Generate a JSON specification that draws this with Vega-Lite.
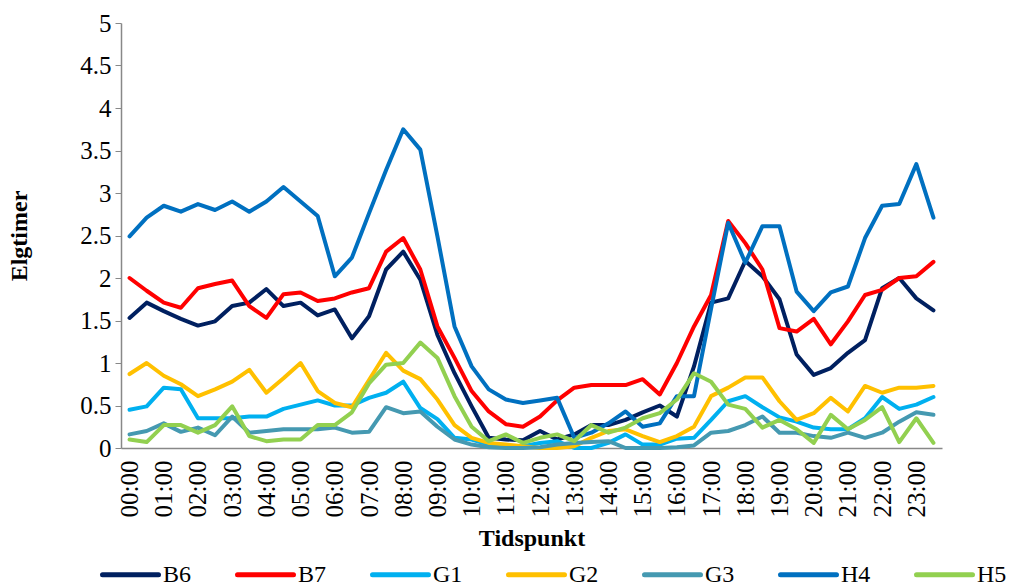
{
"$schema":"https://vega.github.io/schema/vega-lite/v6.json",
"autosize":{"type":"none"},
"width":821,"height":425,
"padding":{"left":121,"top":23,"right":68,"bottom":140},
"background":"white",
"config":{"font":"Liberation Serif","view":{"stroke":null},"axis":{"labelFont":"Liberation Serif","titleFont":"Liberation Serif"},"legend":{"labelFont":"Liberation Serif"}},
"data":{"values":[
{"t":"00:00","s":"B6","v":1.53},{"t":"00:30","s":"B6","v":1.71},{"t":"01:00","s":"B6","v":1.61},{"t":"01:30","s":"B6","v":1.52},{"t":"02:00","s":"B6","v":1.44},{"t":"02:30","s":"B6","v":1.49},{"t":"03:00","s":"B6","v":1.67},{"t":"03:30","s":"B6","v":1.71},{"t":"04:00","s":"B6","v":1.87},{"t":"04:30","s":"B6","v":1.67},{"t":"05:00","s":"B6","v":1.71},{"t":"05:30","s":"B6","v":1.56},{"t":"06:00","s":"B6","v":1.63},{"t":"06:30","s":"B6","v":1.29},{"t":"07:00","s":"B6","v":1.55},{"t":"07:30","s":"B6","v":2.10},{"t":"08:00","s":"B6","v":2.31},{"t":"08:30","s":"B6","v":1.98},{"t":"09:00","s":"B6","v":1.33},{"t":"09:30","s":"B6","v":0.88},{"t":"10:00","s":"B6","v":0.49},{"t":"10:30","s":"B6","v":0.12},{"t":"11:00","s":"B6","v":0.10},{"t":"11:30","s":"B6","v":0.09},{"t":"12:00","s":"B6","v":0.20},{"t":"12:30","s":"B6","v":0.10},{"t":"13:00","s":"B6","v":0.16},{"t":"13:30","s":"B6","v":0.27},{"t":"14:00","s":"B6","v":0.27},{"t":"14:30","s":"B6","v":0.33},{"t":"15:00","s":"B6","v":0.42},{"t":"15:30","s":"B6","v":0.50},{"t":"16:00","s":"B6","v":0.37},{"t":"16:30","s":"B6","v":0.96},{"t":"17:00","s":"B6","v":1.71},{"t":"17:30","s":"B6","v":1.76},{"t":"18:00","s":"B6","v":2.20},{"t":"18:30","s":"B6","v":2.02},{"t":"19:00","s":"B6","v":1.75},{"t":"19:30","s":"B6","v":1.10},{"t":"20:00","s":"B6","v":0.86},{"t":"20:30","s":"B6","v":0.94},{"t":"21:00","s":"B6","v":1.12},{"t":"21:30","s":"B6","v":1.27},{"t":"22:00","s":"B6","v":1.88},{"t":"22:30","s":"B6","v":2.00},{"t":"23:00","s":"B6","v":1.76},{"t":"23:30","s":"B6","v":1.62},
{"t":"00:00","s":"B7","v":2.00},{"t":"00:30","s":"B7","v":1.85},{"t":"01:00","s":"B7","v":1.71},{"t":"01:30","s":"B7","v":1.65},{"t":"02:00","s":"B7","v":1.88},{"t":"02:30","s":"B7","v":1.93},{"t":"03:00","s":"B7","v":1.97},{"t":"03:30","s":"B7","v":1.67},{"t":"04:00","s":"B7","v":1.53},{"t":"04:30","s":"B7","v":1.81},{"t":"05:00","s":"B7","v":1.83},{"t":"05:30","s":"B7","v":1.73},{"t":"06:00","s":"B7","v":1.76},{"t":"06:30","s":"B7","v":1.83},{"t":"07:00","s":"B7","v":1.88},{"t":"07:30","s":"B7","v":2.31},{"t":"08:00","s":"B7","v":2.47},{"t":"08:30","s":"B7","v":2.10},{"t":"09:00","s":"B7","v":1.43},{"t":"09:30","s":"B7","v":1.06},{"t":"10:00","s":"B7","v":0.67},{"t":"10:30","s":"B7","v":0.43},{"t":"11:00","s":"B7","v":0.28},{"t":"11:30","s":"B7","v":0.25},{"t":"12:00","s":"B7","v":0.37},{"t":"12:30","s":"B7","v":0.56},{"t":"13:00","s":"B7","v":0.71},{"t":"13:30","s":"B7","v":0.74},{"t":"14:00","s":"B7","v":0.74},{"t":"14:30","s":"B7","v":0.74},{"t":"15:00","s":"B7","v":0.81},{"t":"15:30","s":"B7","v":0.63},{"t":"16:00","s":"B7","v":1.00},{"t":"16:30","s":"B7","v":1.43},{"t":"17:00","s":"B7","v":1.80},{"t":"17:30","s":"B7","v":2.67},{"t":"18:00","s":"B7","v":2.41},{"t":"18:30","s":"B7","v":2.10},{"t":"19:00","s":"B7","v":1.41},{"t":"19:30","s":"B7","v":1.37},{"t":"20:00","s":"B7","v":1.52},{"t":"20:30","s":"B7","v":1.22},{"t":"21:00","s":"B7","v":1.49},{"t":"21:30","s":"B7","v":1.80},{"t":"22:00","s":"B7","v":1.86},{"t":"22:30","s":"B7","v":2.00},{"t":"23:00","s":"B7","v":2.02},{"t":"23:30","s":"B7","v":2.19},
{"t":"00:00","s":"G1","v":0.45},{"t":"00:30","s":"G1","v":0.49},{"t":"01:00","s":"G1","v":0.71},{"t":"01:30","s":"G1","v":0.69},{"t":"02:00","s":"G1","v":0.35},{"t":"02:30","s":"G1","v":0.35},{"t":"03:00","s":"G1","v":0.35},{"t":"03:30","s":"G1","v":0.37},{"t":"04:00","s":"G1","v":0.37},{"t":"04:30","s":"G1","v":0.46},{"t":"05:00","s":"G1","v":0.51},{"t":"05:30","s":"G1","v":0.56},{"t":"06:00","s":"G1","v":0.50},{"t":"06:30","s":"G1","v":0.50},{"t":"07:00","s":"G1","v":0.59},{"t":"07:30","s":"G1","v":0.65},{"t":"08:00","s":"G1","v":0.78},{"t":"08:30","s":"G1","v":0.47},{"t":"09:00","s":"G1","v":0.34},{"t":"09:30","s":"G1","v":0.12},{"t":"10:00","s":"G1","v":0.10},{"t":"10:30","s":"G1","v":0.04},{"t":"11:00","s":"G1","v":0.02},{"t":"11:30","s":"G1","v":0.02},{"t":"12:00","s":"G1","v":0.06},{"t":"12:30","s":"G1","v":0.08},{"t":"13:00","s":"G1","v":0.00},{"t":"13:30","s":"G1","v":0.00},{"t":"14:00","s":"G1","v":0.06},{"t":"14:30","s":"G1","v":0.16},{"t":"15:00","s":"G1","v":0.04},{"t":"15:30","s":"G1","v":0.04},{"t":"16:00","s":"G1","v":0.11},{"t":"16:30","s":"G1","v":0.12},{"t":"17:00","s":"G1","v":0.33},{"t":"17:30","s":"G1","v":0.55},{"t":"18:00","s":"G1","v":0.61},{"t":"18:30","s":"G1","v":0.48},{"t":"19:00","s":"G1","v":0.36},{"t":"19:30","s":"G1","v":0.31},{"t":"20:00","s":"G1","v":0.24},{"t":"20:30","s":"G1","v":0.22},{"t":"21:00","s":"G1","v":0.22},{"t":"21:30","s":"G1","v":0.35},{"t":"22:00","s":"G1","v":0.60},{"t":"22:30","s":"G1","v":0.46},{"t":"23:00","s":"G1","v":0.51},{"t":"23:30","s":"G1","v":0.60},
{"t":"00:00","s":"G2","v":0.87},{"t":"00:30","s":"G2","v":1.00},{"t":"01:00","s":"G2","v":0.85},{"t":"01:30","s":"G2","v":0.75},{"t":"02:00","s":"G2","v":0.61},{"t":"02:30","s":"G2","v":0.69},{"t":"03:00","s":"G2","v":0.78},{"t":"03:30","s":"G2","v":0.92},{"t":"04:00","s":"G2","v":0.65},{"t":"04:30","s":"G2","v":0.82},{"t":"05:00","s":"G2","v":1.00},{"t":"05:30","s":"G2","v":0.67},{"t":"06:00","s":"G2","v":0.53},{"t":"06:30","s":"G2","v":0.48},{"t":"07:00","s":"G2","v":0.80},{"t":"07:30","s":"G2","v":1.12},{"t":"08:00","s":"G2","v":0.91},{"t":"08:30","s":"G2","v":0.81},{"t":"09:00","s":"G2","v":0.57},{"t":"09:30","s":"G2","v":0.27},{"t":"10:00","s":"G2","v":0.12},{"t":"10:30","s":"G2","v":0.06},{"t":"11:00","s":"G2","v":0.04},{"t":"11:30","s":"G2","v":0.02},{"t":"12:00","s":"G2","v":0.00},{"t":"12:30","s":"G2","v":0.00},{"t":"13:00","s":"G2","v":0.02},{"t":"13:30","s":"G2","v":0.12},{"t":"14:00","s":"G2","v":0.20},{"t":"14:30","s":"G2","v":0.22},{"t":"15:00","s":"G2","v":0.14},{"t":"15:30","s":"G2","v":0.07},{"t":"16:00","s":"G2","v":0.14},{"t":"16:30","s":"G2","v":0.25},{"t":"17:00","s":"G2","v":0.61},{"t":"17:30","s":"G2","v":0.71},{"t":"18:00","s":"G2","v":0.83},{"t":"18:30","s":"G2","v":0.83},{"t":"19:00","s":"G2","v":0.55},{"t":"19:30","s":"G2","v":0.33},{"t":"20:00","s":"G2","v":0.41},{"t":"20:30","s":"G2","v":0.59},{"t":"21:00","s":"G2","v":0.43},{"t":"21:30","s":"G2","v":0.73},{"t":"22:00","s":"G2","v":0.65},{"t":"22:30","s":"G2","v":0.71},{"t":"23:00","s":"G2","v":0.71},{"t":"23:30","s":"G2","v":0.73},
{"t":"00:00","s":"G3","v":0.16},{"t":"00:30","s":"G3","v":0.20},{"t":"01:00","s":"G3","v":0.29},{"t":"01:30","s":"G3","v":0.19},{"t":"02:00","s":"G3","v":0.24},{"t":"02:30","s":"G3","v":0.15},{"t":"03:00","s":"G3","v":0.37},{"t":"03:30","s":"G3","v":0.18},{"t":"04:00","s":"G3","v":0.20},{"t":"04:30","s":"G3","v":0.22},{"t":"05:00","s":"G3","v":0.22},{"t":"05:30","s":"G3","v":0.22},{"t":"06:00","s":"G3","v":0.24},{"t":"06:30","s":"G3","v":0.18},{"t":"07:00","s":"G3","v":0.19},{"t":"07:30","s":"G3","v":0.48},{"t":"08:00","s":"G3","v":0.41},{"t":"08:30","s":"G3","v":0.43},{"t":"09:00","s":"G3","v":0.25},{"t":"09:30","s":"G3","v":0.10},{"t":"10:00","s":"G3","v":0.04},{"t":"10:30","s":"G3","v":0.01},{"t":"11:00","s":"G3","v":0.00},{"t":"11:30","s":"G3","v":0.00},{"t":"12:00","s":"G3","v":0.01},{"t":"12:30","s":"G3","v":0.04},{"t":"13:00","s":"G3","v":0.06},{"t":"13:30","s":"G3","v":0.07},{"t":"14:00","s":"G3","v":0.08},{"t":"14:30","s":"G3","v":0.00},{"t":"15:00","s":"G3","v":0.00},{"t":"15:30","s":"G3","v":0.00},{"t":"16:00","s":"G3","v":0.01},{"t":"16:30","s":"G3","v":0.03},{"t":"17:00","s":"G3","v":0.18},{"t":"17:30","s":"G3","v":0.20},{"t":"18:00","s":"G3","v":0.27},{"t":"18:30","s":"G3","v":0.37},{"t":"19:00","s":"G3","v":0.18},{"t":"19:30","s":"G3","v":0.18},{"t":"20:00","s":"G3","v":0.14},{"t":"20:30","s":"G3","v":0.12},{"t":"21:00","s":"G3","v":0.18},{"t":"21:30","s":"G3","v":0.12},{"t":"22:00","s":"G3","v":0.18},{"t":"22:30","s":"G3","v":0.31},{"t":"23:00","s":"G3","v":0.42},{"t":"23:30","s":"G3","v":0.39},
{"t":"00:00","s":"H4","v":2.49},{"t":"00:30","s":"H4","v":2.71},{"t":"01:00","s":"H4","v":2.85},{"t":"01:30","s":"H4","v":2.78},{"t":"02:00","s":"H4","v":2.87},{"t":"02:30","s":"H4","v":2.80},{"t":"03:00","s":"H4","v":2.90},{"t":"03:30","s":"H4","v":2.78},{"t":"04:00","s":"H4","v":2.90},{"t":"04:30","s":"H4","v":3.07},{"t":"05:00","s":"H4","v":2.90},{"t":"05:30","s":"H4","v":2.73},{"t":"06:00","s":"H4","v":2.02},{"t":"06:30","s":"H4","v":2.24},{"t":"07:00","s":"H4","v":2.76},{"t":"07:30","s":"H4","v":3.27},{"t":"08:00","s":"H4","v":3.75},{"t":"08:30","s":"H4","v":3.51},{"t":"09:00","s":"H4","v":2.49},{"t":"09:30","s":"H4","v":1.43},{"t":"10:00","s":"H4","v":0.96},{"t":"10:30","s":"H4","v":0.69},{"t":"11:00","s":"H4","v":0.57},{"t":"11:30","s":"H4","v":0.53},{"t":"12:00","s":"H4","v":0.56},{"t":"12:30","s":"H4","v":0.59},{"t":"13:00","s":"H4","v":0.12},{"t":"13:30","s":"H4","v":0.18},{"t":"14:00","s":"H4","v":0.29},{"t":"14:30","s":"H4","v":0.43},{"t":"15:00","s":"H4","v":0.25},{"t":"15:30","s":"H4","v":0.29},{"t":"16:00","s":"H4","v":0.61},{"t":"16:30","s":"H4","v":0.61},{"t":"17:00","s":"H4","v":1.64},{"t":"17:30","s":"H4","v":2.65},{"t":"18:00","s":"H4","v":2.18},{"t":"18:30","s":"H4","v":2.61},{"t":"19:00","s":"H4","v":2.61},{"t":"19:30","s":"H4","v":1.84},{"t":"20:00","s":"H4","v":1.61},{"t":"20:30","s":"H4","v":1.83},{"t":"21:00","s":"H4","v":1.90},{"t":"21:30","s":"H4","v":2.47},{"t":"22:00","s":"H4","v":2.85},{"t":"22:30","s":"H4","v":2.87},{"t":"23:00","s":"H4","v":3.34},{"t":"23:30","s":"H4","v":2.71},
{"t":"00:00","s":"H5","v":0.10},{"t":"00:30","s":"H5","v":0.07},{"t":"01:00","s":"H5","v":0.27},{"t":"01:30","s":"H5","v":0.27},{"t":"02:00","s":"H5","v":0.18},{"t":"02:30","s":"H5","v":0.27},{"t":"03:00","s":"H5","v":0.49},{"t":"03:30","s":"H5","v":0.14},{"t":"04:00","s":"H5","v":0.08},{"t":"04:30","s":"H5","v":0.10},{"t":"05:00","s":"H5","v":0.10},{"t":"05:30","s":"H5","v":0.27},{"t":"06:00","s":"H5","v":0.27},{"t":"06:30","s":"H5","v":0.42},{"t":"07:00","s":"H5","v":0.76},{"t":"07:30","s":"H5","v":0.98},{"t":"08:00","s":"H5","v":1.00},{"t":"08:30","s":"H5","v":1.24},{"t":"09:00","s":"H5","v":1.06},{"t":"09:30","s":"H5","v":0.61},{"t":"10:00","s":"H5","v":0.25},{"t":"10:30","s":"H5","v":0.08},{"t":"11:00","s":"H5","v":0.16},{"t":"11:30","s":"H5","v":0.06},{"t":"12:00","s":"H5","v":0.12},{"t":"12:30","s":"H5","v":0.16},{"t":"13:00","s":"H5","v":0.08},{"t":"13:30","s":"H5","v":0.27},{"t":"14:00","s":"H5","v":0.18},{"t":"14:30","s":"H5","v":0.24},{"t":"15:00","s":"H5","v":0.35},{"t":"15:30","s":"H5","v":0.41},{"t":"16:00","s":"H5","v":0.57},{"t":"16:30","s":"H5","v":0.88},{"t":"17:00","s":"H5","v":0.78},{"t":"17:30","s":"H5","v":0.51},{"t":"18:00","s":"H5","v":0.46},{"t":"18:30","s":"H5","v":0.24},{"t":"19:00","s":"H5","v":0.33},{"t":"19:30","s":"H5","v":0.22},{"t":"20:00","s":"H5","v":0.06},{"t":"20:30","s":"H5","v":0.39},{"t":"21:00","s":"H5","v":0.22},{"t":"21:30","s":"H5","v":0.33},{"t":"22:00","s":"H5","v":0.48},{"t":"22:30","s":"H5","v":0.07},{"t":"23:00","s":"H5","v":0.35},{"t":"23:30","s":"H5","v":0.06}
]},
"mark":{"type":"line","strokeWidth":4,"strokeJoin":"round","strokeCap":"round"},
"encoding":{
"x":{"field":"t","type":"ordinal","sort":null,"scale":{"type":"point","padding":0.5},
"axis":{"title":"Tidspunkt","titleFont":"Liberation Serif","titleFontSize":24,"titleFontWeight":"bold","titleColor":"black","titlePadding":10,
"values":["00:00","01:00","02:00","03:00","04:00","05:00","06:00","07:00","08:00","09:00","10:00","11:00","12:00","13:00","14:00","15:00","16:00","17:00","18:00","19:00","20:00","21:00","22:00","23:00"],
"labelAngle":-90,"labelFont":"Liberation Serif","labelFontSize":25,"labelColor":"black","labelPadding":12,"ticks":false,"domainColor":"#888888","domainWidth":1.5,"grid":false}},
"y":{"field":"v","type":"quantitative","scale":{"domain":[0,5],"nice":false},
"axis":{"title":"Elgtimer","titleFont":"Liberation Serif","titleFontSize":24,"titleFontWeight":"bold","titleColor":"black","titlePadding":48,
"values":[0,0.5,1,1.5,2,2.5,3,3.5,4,4.5,5],"format":"~g","labelFont":"Liberation Serif","labelFontSize":25,"labelColor":"black","labelPadding":4,"tickSize":6,"tickColor":"#888888","domainColor":"#888888","domainWidth":1.5,"grid":false}},
"color":{"field":"s","type":"nominal","scale":{"domain":["B6","B7","G1","G2","G3","H4","H5"],"range":["#002060","#FF0000","#00B0F0","#FFC000","#4599B1","#0070C0","#92D050"]},
"legend":{"title":null,"orient":"none","legendX":-21,"legendY":521,"direction":"horizontal","columns":7,"symbolType":"stroke","symbolSize":3136,"symbolStrokeWidth":5,"labelFont":"Liberation Serif","labelFontSize":24,"labelColor":"black","labelOffset":2,"columnPadding":35,
"encode":{"symbols":{"update":{"strokeCap":{"value":"round"}}}}}}
}
}
